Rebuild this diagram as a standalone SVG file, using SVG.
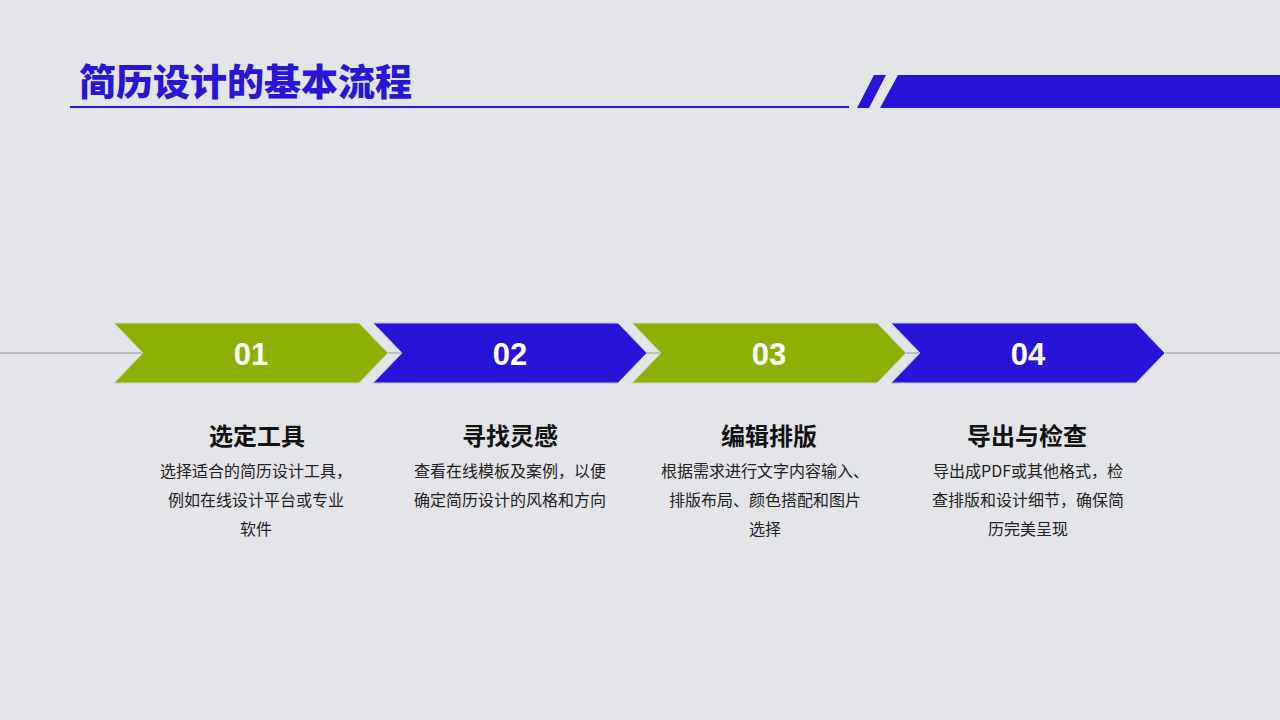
<svg xmlns="http://www.w3.org/2000/svg" width="1280" height="720" viewBox="0 0 1280 720">
<style>
.title{font-family:"Noto Sans CJK SC","Liberation Sans",sans-serif;font-weight:900;font-size:37px;fill:#2a14d8}
.num{font-family:"Liberation Sans","Noto Sans",sans-serif;font-weight:bold;font-size:31px;fill:#ffffff;text-anchor:middle}
.head{font-family:"Noto Sans CJK SC",sans-serif;font-weight:bold;font-size:24px;fill:#111111;text-anchor:middle}
.desc{font-family:"Noto Sans CJK SC",sans-serif;font-size:16px;fill:#222222;text-anchor:middle}
.green{fill:#8cb000;stroke:#cfd6c4;stroke-width:1}
.blue{fill:#2814d8;stroke:#c9c6ea;stroke-width:1}
</style>
<rect width="1280" height="720" fill="#e4e5e9"/>
<g id="header">
<text class="title" x="79" y="96">简历设计的基本流程</text>
<line x1="70" y1="107" x2="849" y2="107" stroke="#2a14d8" stroke-width="2"/>
<polygon points="874,75 886,75 869,108 857,108" fill="#2814d8"/>
<polygon points="898,75 1280,75 1280,108 880,108" fill="#2814d8"/>
</g>
<g id="connectors">
<line x1="0" y1="353" x2="1280" y2="353" stroke="#aeb1bd" stroke-width="1.5"/>
</g>
<g id="step1">
<polygon class="green" points="114,323 359,323 388,353 359,383 114,383 143,353"/>
<text class="num" x="251" y="365">01</text>
<text class="head" x="257" y="445">选定工具</text>
<text class="desc" x="256" y="477">选择适合的简历设计工具，</text>
<text class="desc" x="256" y="506">例如在线设计平台或专业</text>
<text class="desc" x="256" y="535">软件</text>
</g>
<g id="step2">
<polygon class="blue" points="373,323 618,323 647,353 618,383 373,383 402,353"/>
<text class="num" x="510" y="365">02</text>
<text class="head" x="510" y="445">寻找灵感</text>
<text class="desc" x="510" y="477">查看在线模板及案例，以便</text>
<text class="desc" x="510" y="506">确定简历设计的风格和方向</text>
</g>
<g id="step3">
<polygon class="green" points="632,323 877,323 906,353 877,383 632,383 661,353"/>
<text class="num" x="769" y="365">03</text>
<text class="head" x="769" y="445">编辑排版</text>
<text class="desc" x="765" y="477">根据需求进行文字内容输入、</text>
<text class="desc" x="765" y="506">排版布局、颜色搭配和图片</text>
<text class="desc" x="765" y="535">选择</text>
</g>
<g id="step4">
<polygon class="blue" points="891,323 1136,323 1165,353 1136,383 891,383 920,353"/>
<text class="num" x="1028" y="365">04</text>
<text class="head" x="1027" y="445">导出与检查</text>
<text class="desc" x="1028" y="477">导出成PDF或其他格式，检</text>
<text class="desc" x="1028" y="506">查排版和设计细节，确保简</text>
<text class="desc" x="1028" y="535">历完美呈现</text>
</g>
</svg>
